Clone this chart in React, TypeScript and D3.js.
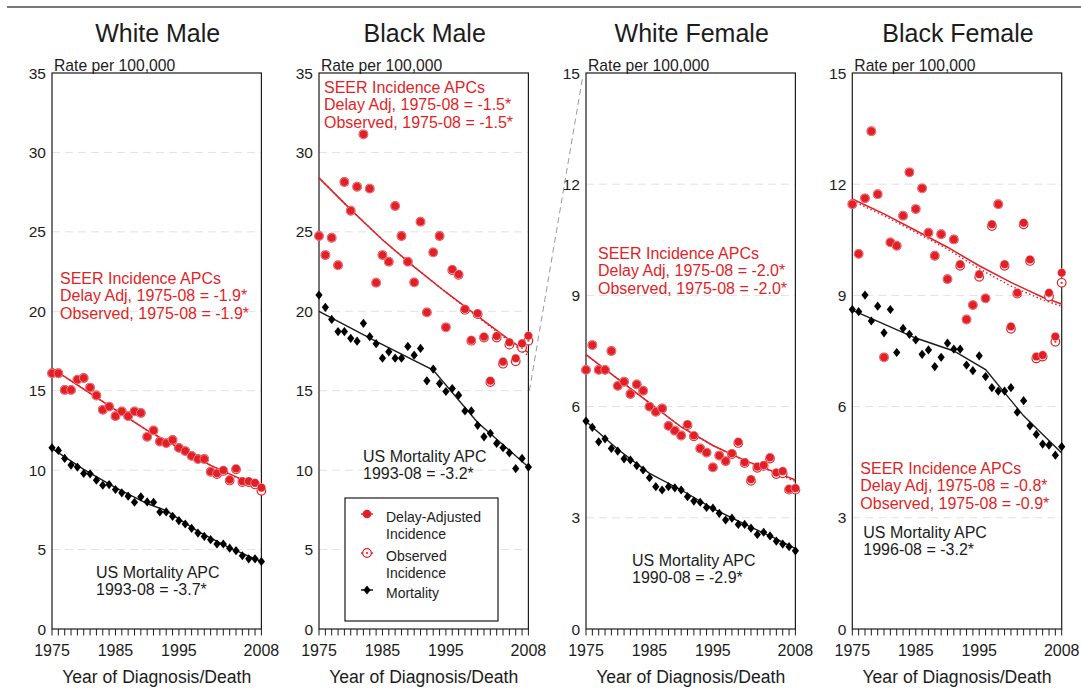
import { useEffect, useRef } from 'react';
import * as d3 from 'd3';

const RED = '#e21f26';
const INK = '#1c1c1c';
const FONT = 'Liberation Sans, Arial, Helvetica, sans-serif';

// years of diagnosis / death
const YEARS = d3.range(1975, 2009);
const X_LABELS = [1975, 1985, 1995, 2008];
const FIT_YEARS = [1975, 1980, 1985, 1990, 1995, 2000, 2005, 2008];

// ── White Male ──────────────────────────────────────────────
const WM_DELAY = [16.1, 16.1, 15.05, 15.05, 15.7, 15.8, 15.2, 14.7, 13.8, 14.0, 13.4, 13.7, 13.4, 13.7, 13.6, 12.1, 12.5, 11.8, 11.7, 11.9, 11.4, 11.2, 10.9, 10.7, 10.7, 9.9, 9.8, 10.0, 9.4, 10.1, 9.3, 9.3, 9.2, 8.9];
const WM_OBS = [16.1, 16.1, 15.05, 15.05, 15.7, 15.8, 15.2, 14.7, 13.8, 14.0, 13.4, 13.7, 13.4, 13.7, 13.6, 12.1, 12.5, 11.8, 11.7, 11.9, 11.4, 11.2, 10.9, 10.7, 10.7, 9.9, 9.75, 9.95, 9.35, 10.05, 9.25, 9.25, 9.1, 8.7];
const WM_MORT = [11.41, 11.24, 10.74, 10.32, 10.19, 9.79, 9.77, 9.37, 9.05, 9.09, 8.78, 8.57, 8.36, 7.98, 8.32, 8.0, 7.98, 7.37, 7.37, 7.09, 6.82, 6.61, 6.34, 6.04, 5.83, 5.62, 5.35, 5.35, 5.09, 4.93, 4.61, 4.42, 4.42, 4.25];
const WM_INC_FIT = [16.4, 15.1, 13.8, 12.5, 11.4, 10.3, 9.4, 8.8];
const WM_OBS_FIT = [16.4, 15.1, 13.8, 12.5, 11.4, 10.3, 9.35, 8.72];
const WM_MORT_FIT_YEARS = [1975, 1980, 1985, 1990, 1993, 1998, 2003, 2008];
const WM_MORT_FIT = [11.35, 10.05, 8.9, 7.9, 7.45, 6.15, 5.1, 4.25];

// ── Black Male ──────────────────────────────────────────────
const BM_DELAY = [24.74, 23.54, 24.63, 22.9, 28.14, 26.33, 27.84, 31.14, 27.72, 21.8, 23.54, 23.12, 26.63, 24.74, 23.12, 21.82, 25.64, 19.93, 23.71, 24.74, 18.99, 22.64, 22.33, 20.14, 18.19, 19.87, 18.4, 15.63, 18.44, 16.83, 18.05, 17.04, 17.98, 18.46];
const BM_OBS = [24.74, 23.54, 24.63, 22.9, 28.14, 26.33, 27.84, 31.14, 27.72, 21.8, 23.54, 23.12, 26.63, 24.74, 23.12, 21.82, 25.64, 19.93, 23.71, 24.74, 18.99, 22.6, 22.3, 20.1, 18.15, 19.82, 18.35, 15.55, 18.35, 16.7, 17.9, 16.85, 17.7, 18.15];
const BM_MORT = [21.02, 20.25, 19.49, 18.72, 18.72, 18.3, 18.12, 19.24, 18.4, 17.96, 17.05, 17.45, 17.05, 17.05, 17.79, 17.24, 17.66, 15.62, 16.36, 15.45, 14.95, 15.14, 14.72, 13.73, 13.73, 12.82, 12.1, 12.32, 11.68, 11.41, 11.09, 10.1, 10.74, 10.19];
const BM_INC_FIT = [28.4, 26.4, 24.5, 22.8, 21.2, 19.7, 18.2, 17.4];
const BM_OBS_FIT = [28.4, 26.4, 24.5, 22.8, 21.2, 19.65, 18.1, 17.2];
const BM_MORT_FIT_YEARS = [1975, 1984, 1993, 2000, 2008];
const BM_MORT_FIT = [20.0, 18.1, 16.3, 13.0, 10.2];

// ── White Female ────────────────────────────────────────────
const WF_DELAY = [6.99, 7.66, 6.99, 6.99, 7.5, 6.56, 6.67, 6.34, 6.6, 6.43, 6.0, 5.86, 5.95, 5.48, 5.35, 5.22, 5.52, 5.22, 4.87, 4.76, 4.36, 4.68, 4.53, 4.74, 5.05, 4.5, 4.04, 4.38, 4.42, 4.63, 4.22, 4.26, 3.78, 3.8];
const WF_OBS = [6.99, 7.66, 6.99, 6.99, 7.5, 6.56, 6.67, 6.34, 6.6, 6.43, 6.0, 5.86, 5.95, 5.48, 5.35, 5.22, 5.5, 5.2, 4.87, 4.76, 4.36, 4.68, 4.53, 4.72, 5.02, 4.48, 4.0, 4.35, 4.4, 4.6, 4.18, 4.2, 3.76, 3.76];
const WF_MORT = [5.61, 5.44, 5.05, 5.13, 4.87, 4.8, 4.59, 4.56, 4.41, 4.29, 4.08, 3.84, 3.75, 3.84, 3.81, 3.75, 3.57, 3.45, 3.42, 3.28, 3.26, 3.12, 2.94, 2.99, 2.82, 2.82, 2.72, 2.55, 2.61, 2.51, 2.37, 2.29, 2.22, 2.11];
const WF_INC_FIT = [7.4, 6.75, 6.1, 5.45, 4.95, 4.55, 4.22, 4.02];
const WF_OBS_FIT = [7.4, 6.75, 6.1, 5.45, 4.95, 4.54, 4.2, 3.98];
const WF_MORT_FIT_YEARS = [1975, 1980, 1985, 1990, 1995, 2000, 2005, 2008];
const WF_MORT_FIT = [5.6, 4.85, 4.2, 3.75, 3.25, 2.83, 2.43, 2.17];

// ── Black Female ────────────────────────────────────────────
const BF_DELAY = [11.46, 10.12, 11.62, 13.43, 11.73, 7.33, 10.43, 10.34, 11.15, 12.32, 11.33, 11.89, 10.69, 10.07, 10.65, 9.44, 10.51, 9.84, 8.35, 8.74, 9.57, 8.92, 10.92, 11.46, 9.84, 8.16, 9.07, 10.96, 9.97, 7.35, 7.39, 9.07, 7.89, 9.61];
const BF_OBS = [11.46, 10.12, 11.62, 13.43, 11.73, 7.33, 10.43, 10.34, 11.15, 12.32, 11.33, 11.89, 10.69, 10.07, 10.65, 9.44, 10.51, 9.8, 8.35, 8.74, 9.5, 8.92, 10.87, 11.46, 9.8, 8.1, 9.05, 10.92, 9.93, 7.3, 7.35, 8.97, 7.75, 9.34];
const BF_MORT = [8.62, 8.56, 9.01, 8.31, 8.71, 7.99, 8.62, 7.46, 8.11, 7.95, 7.8, 7.41, 7.53, 7.08, 7.33, 7.71, 7.55, 7.55, 7.12, 6.97, 7.37, 6.81, 6.51, 6.42, 6.42, 6.51, 5.85, 6.16, 5.48, 5.25, 4.99, 4.96, 4.69, 4.92];
const BF_INC_FIT = [11.6, 11.2, 10.75, 10.3, 9.8, 9.35, 8.95, 8.77];
const BF_OBS_FIT = [11.55, 11.15, 10.7, 10.25, 9.72, 9.25, 8.88, 8.71];
const BF_MORT_FIT_YEARS = [1975, 1985, 1991, 1996, 2002, 2008];
const BF_MORT_FIT = [8.6, 7.85, 7.5, 7.0, 5.75, 4.75];

const MALE_TICKS = [0, 5, 10, 15, 20, 25, 30, 35];
const FEMALE_TICKS = [0, 3, 6, 9, 12, 15];

const PANELS = [
  {
    title: 'White Male', ticks: MALE_TICKS, delay: WM_DELAY, obs: WM_OBS, mort: WM_MORT,
    incFit: WM_INC_FIT, obsFit: WM_OBS_FIT, mortFitYears: WM_MORT_FIT_YEARS, mortFit: WM_MORT_FIT,
    seer: ['SEER Incidence APCs', 'Delay Adj, 1975-08 = -1.9*', 'Observed, 1975-08 = -1.9*'],
    mortText: ['US Mortality APC', '1993-08 = -3.7*'],
    seerAt: [8, 284], mortAt: [44, 578],
  },
  {
    title: 'Black Male', ticks: MALE_TICKS, delay: BM_DELAY, obs: BM_OBS, mort: BM_MORT,
    incFit: BM_INC_FIT, obsFit: BM_OBS_FIT, mortFitYears: BM_MORT_FIT_YEARS, mortFit: BM_MORT_FIT,
    seer: ['SEER Incidence APCs', 'Delay Adj, 1975-08 = -1.5*', 'Observed, 1975-08 = -1.5*'],
    mortText: ['US Mortality APC', '1993-08 = -3.2*'],
    seerAt: [5, 93], mortAt: [44, 462],
  },
  {
    title: 'White Female', ticks: FEMALE_TICKS, delay: WF_DELAY, obs: WF_OBS, mort: WF_MORT,
    incFit: WF_INC_FIT, obsFit: WF_OBS_FIT, mortFitYears: WF_MORT_FIT_YEARS, mortFit: WF_MORT_FIT,
    seer: ['SEER Incidence APCs', 'Delay Adj, 1975-08 = -2.0*', 'Observed, 1975-08 = -2.0*'],
    mortText: ['US Mortality APC', '1990-08 = -2.9*'],
    seerAt: [12, 259], mortAt: [46, 566],
  },
  {
    title: 'Black Female', ticks: FEMALE_TICKS, delay: BF_DELAY, obs: BF_OBS, mort: BF_MORT,
    incFit: BF_INC_FIT, obsFit: BF_OBS_FIT, mortFitYears: BF_MORT_FIT_YEARS, mortFit: BF_MORT_FIT,
    seer: ['SEER Incidence APCs', 'Delay Adj, 1975-08 = -0.8*', 'Observed, 1975-08 = -0.9*'],
    mortText: ['US Mortality APC', '1996-08 = -3.2*'],
    seerAt: [8, 474], mortAt: [11, 538],
  },
];

const W = 1081;
const H = 688;
const LEFTS = [52, 319, 586, 852.3];
const BOX_W = 209.4;
const TOP = 73;
const BOTTOM = 629;

const DIAMOND = 'M0,-4.6L3.6,0L0,4.6L-3.6,0Z';

export default function App() {
  const ref = useRef<SVGSVGElement>(null);

  useEffect(() => {
    const svg = d3.select(ref.current);
    svg.selectAll('*').remove();

    // rule across the top
    svg.append('line').attr('x1', 7).attr('x2', W).attr('y1', 7).attr('y2', 7)
      .attr('stroke', '#4a4a4a').attr('stroke-width', 1.5);

    const scales: any[] = [];

    PANELS.forEach((p, i) => {
      const left = LEFTS[i];
      const right = left + BOX_W;
      const x = d3.scaleLinear().domain([1975, 2008]).range([left, right]);
      const y = d3.scaleLinear().domain([0, p.ticks[p.ticks.length - 1]]).range([BOTTOM, TOP]);
      scales.push({ x, y });
      const g = svg.append('g');

      // ── grid + frame ──
      p.ticks.slice(1, -1).forEach(t => {
        g.append('line').attr('x1', left).attr('x2', right).attr('y1', y(t)).attr('y2', y(t))
          .attr('stroke', '#e2e2e2').attr('stroke-width', 1).attr('stroke-dasharray', '8,5');
      });
      g.append('rect').attr('x', left).attr('y', TOP).attr('width', BOX_W).attr('height', BOTTOM - TOP)
        .attr('fill', 'none').attr('stroke', INK).attr('stroke-width', 1.2);

      // ── y labels ──
      p.ticks.forEach(t => {
        g.append('text').attr('x', left - 6).attr('y', y(t)).attr('dy', '0.36em')
          .attr('text-anchor', 'end').attr('font-family', FONT).attr('font-size', 15.5)
          .attr('fill', INK).text(t);
      });

      // ── x ticks ──
      YEARS.forEach(yr => {
        g.append('line').attr('x1', x(yr)).attr('x2', x(yr)).attr('y1', BOTTOM).attr('y2', BOTTOM + 6.5)
          .attr('stroke', INK).attr('stroke-width', 1);
      });
      X_LABELS.forEach(yr => {
        g.append('text').attr('x', x(yr)).attr('y', 656).attr('text-anchor', 'middle')
          .attr('font-family', FONT).attr('font-size', 16).attr('fill', INK).text(yr);
      });
      g.append('text').attr('x', (left + right) / 2).attr('y', 683).attr('text-anchor', 'middle')
        .attr('font-family', FONT).attr('font-size', 17.6).attr('fill', INK).text('Year of Diagnosis/Death');

      // ── titles ──
      g.append('text').attr('x', (left + right) / 2 + 1).attr('y', 42).attr('text-anchor', 'middle')
        .attr('font-family', FONT).attr('font-size', 25).attr('fill', INK).text(p.title);
      g.append('text').attr('x', left + 2).attr('y', 70.5)
        .attr('font-family', FONT).attr('font-size', 15.7).attr('fill', INK).text('Rate per 100,000');

      // ── fitted lines ──
      const line = d3.line<[number, number]>().x(d => x(d[0])).y(d => y(d[1]));
      g.append('path').attr('d', line(FIT_YEARS.map((yr, k) => [yr, p.obsFit[k]])))
        .attr('fill', 'none').attr('stroke', RED).attr('stroke-width', 1.4).attr('stroke-dasharray', '1.5,2.5');
      g.append('path').attr('d', line(FIT_YEARS.map((yr, k) => [yr, p.incFit[k]])))
        .attr('fill', 'none').attr('stroke', RED).attr('stroke-width', 1.5);
      g.append('path').attr('d', line(p.mortFitYears.map((yr, k) => [yr, p.mortFit[k]])))
        .attr('fill', 'none').attr('stroke', INK).attr('stroke-width', 1.4);

      // ── points ──
      YEARS.forEach((yr, k) => {
        g.append('path').attr('d', DIAMOND).attr('transform', `translate(${x(yr)},${y(p.mort[k])})`)
          .attr('fill', '#000');
      });
      YEARS.forEach((yr, k) => {
        g.append('circle').attr('cx', x(yr)).attr('cy', y(p.obs[k])).attr('r', 4.3)
          .attr('fill', '#fff').attr('stroke', RED).attr('stroke-width', 1.2);
        g.append('circle').attr('cx', x(yr)).attr('cy', y(p.obs[k])).attr('r', 1.1).attr('fill', RED);
      });
      YEARS.forEach((yr, k) => {
        g.append('circle').attr('cx', x(yr)).attr('cy', y(p.delay[k])).attr('r', 4.3)
          .attr('fill', RED).attr('stroke', '#fff').attr('stroke-width', 0.4);
      });

      // ── annotations ──
      p.seer.forEach((s, k) => {
        g.append('text').attr('x', left + p.seerAt[0]).attr('y', p.seerAt[1] + k * 17.3)
          .attr('font-family', FONT).attr('font-size', 16).attr('fill', RED).text(s);
      });
      p.mortText.forEach((s, k) => {
        g.append('text').attr('x', left + p.mortAt[0]).attr('y', p.mortAt[1] + k * 16.8)
          .attr('font-family', FONT).attr('font-size', 16).attr('fill', INK).text(s);
      });
    });

    // scale-change connector between Black Male (15) and White Female top
    const bm = scales[1];
    svg.append('line')
      .attr('x1', LEFTS[1] + BOX_W + 1).attr('y1', bm.y(15))
      .attr('x2', LEFTS[2] - 3).attr('y2', TOP + 2)
      .attr('stroke', '#9a9a9a').attr('stroke-width', 1).attr('stroke-dasharray', '6,4');

    // ── legend (Black Male panel) ──
    const lg = svg.append('g');
    const lx = LEFTS[1] + 26;
    lg.append('rect').attr('x', lx).attr('y', 498).attr('width', 153).attr('height', 123)
      .attr('fill', '#fff').attr('stroke', INK).attr('stroke-width', 1.2);
    const mx = lx + 22;
    const items = [
      { y: 514, kind: 'delay', color: RED, label: ['Delay-Adjusted', 'Incidence'] },
      { y: 553, kind: 'obs', color: RED, label: ['Observed', 'Incidence'] },
      { y: 590, kind: 'mort', color: '#000', label: ['Mortality'] },
    ];
    items.forEach(it => {
      lg.append('line').attr('x1', mx - 6).attr('x2', mx + 6).attr('y1', it.y).attr('y2', it.y)
        .attr('stroke', it.color).attr('stroke-width', 1.4);
      if (it.kind === 'delay') {
        lg.append('circle').attr('cx', mx).attr('cy', it.y).attr('r', 4.3).attr('fill', RED);
      } else if (it.kind === 'obs') {
        lg.append('circle').attr('cx', mx).attr('cy', it.y).attr('r', 4.3)
          .attr('fill', '#fff').attr('stroke', RED).attr('stroke-width', 1.2);
        lg.append('circle').attr('cx', mx).attr('cy', it.y).attr('r', 1.1).attr('fill', RED);
      } else {
        lg.append('path').attr('d', DIAMOND).attr('transform', `translate(${mx},${it.y})`).attr('fill', '#000');
      }
      it.label.forEach((s, k) => {
        lg.append('text').attr('x', lx + 41).attr('y', it.y + 3 + 5 + k * 16.5)
          .attr('font-family', FONT).attr('font-size', 14).attr('fill', INK).text(s);
      });
    });
  }, []);

  return (
    <svg ref={ref} width={W} height={H}
      style={{ position: 'absolute', left: 0, top: 0, background: '#fff' }} />
  );
}
